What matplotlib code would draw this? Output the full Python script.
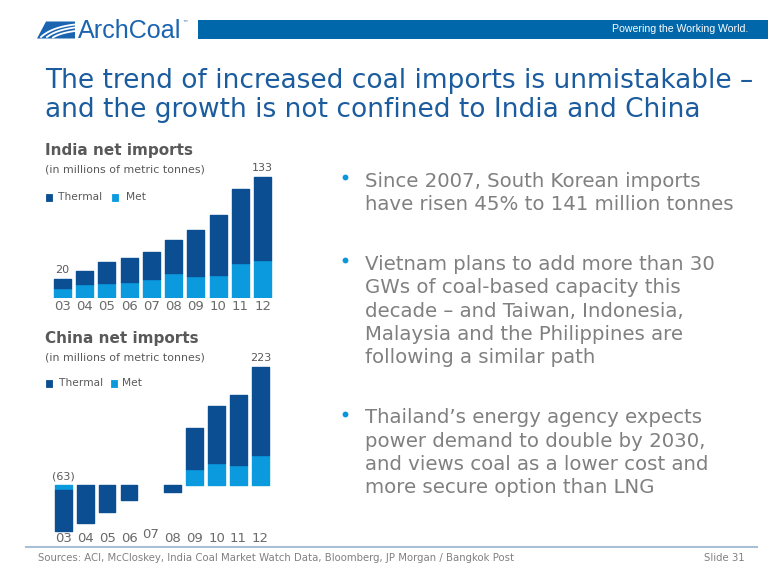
import matplotlib
matplotlib.use("Agg")
import matplotlib.pyplot as plt
from matplotlib.patches import Rectangle, Polygon
import numpy as np

# ---------------- data ----------------
years = ['03', '04', '05', '06', '07', '08', '09', '10', '11', '12']
india_thermal = [10, 15, 24, 27, 29, 37, 51, 66, 82, 91]
india_met = [11, 15, 16, 17, 21, 27, 24, 25, 38, 42]
china_thermal = [-77, -72, -51, -29, 0, -14, 77, 108, 132, 166]
china_met = [-9, 0, 0, 0, 0, 0, 30, 41, 38, 57]
india_labels = {0: '20', 9: '133'}
china_labels = {0: '(63)', 9: '223'}

title_lines = ["The trend of increased coal imports is unmistakable \u2013",
               "and the growth is not confined to India and China"]
bullets = [
    ["Since 2007, South Korean imports",
     "have risen 45% to 141 million tonnes"],
    ["Vietnam plans to add more than 30",
     "GWs of coal-based capacity this",
     "decade \u2013 and Taiwan, Indonesia,",
     "Malaysia and the Philippines are",
     "following a similar path"],
    ["Thailand\u2019s energy agency expects",
     "power demand to double by 2030,",
     "and views coal as a lower cost and",
     "more secure option than LNG"],
]
footer = "Sources: ACI, McCloskey, India Coal Market Watch Data, Bloomberg, JP Morgan / Bangkok Post"

# ---------------- style ----------------
W, H = 780, 585
THERMAL = '#0b4f92'
MET = '#0b9ade'
TITLE_BLUE = '#1b5c9e'
GRAY_TXT = '#808080'
DARK_TXT = '#595959'
TICK_TXT = '#6a6a6a'

fig = plt.figure(figsize=(W / 100, H / 100), dpi=100)
fig.patch.set_facecolor('white')
renderer = fig.canvas.get_renderer()


def fx(x):
    return x / W


def fy(y):
    return 1 - y / H


def fit_size(s, width, size0=12, **kw):
    t = fig.text(0, 0, s, fontsize=size0, **kw)
    bb = t.get_window_extent(renderer)
    t.remove()
    return size0 * width / bb.width


def ftext(x, y, s, **kw):
    return fig.text(fx(x), fy(y), s, **kw)


def axes_px(left, top, width, height):
    return fig.add_axes([fx(left), fy(top + height), width / W, height / H])


# ---------------- header ----------------
fig.add_artist(Rectangle((fx(198), fy(39)), 570 / W, 19 / H, transform=fig.transFigure,
                         facecolor='#0067ab', edgecolor='none'))
s_pw = fit_size("Powering the Working World.", 136, family=['Liberation Sans Narrow', 'Liberation Sans'])
ftext(748, 29.5, "Powering the Working World.", color='white', fontsize=s_pw,
      ha='right', va='center', family=['Liberation Sans Narrow', 'Liberation Sans'])
# logo icon
fig.add_artist(Polygon([(fx(37), fy(38.5)), (fx(46), fy(21.5)), (fx(75), fy(21.5)), (fx(75), fy(38.5))],
                       closed=True, transform=fig.transFigure, facecolor='#1a64b0', edgecolor='none'))
for (x0, y0, x1, y1, x2, y2) in [(41, 37, 52, 27, 75, 24.5), (47, 37, 56, 30, 75, 27.5), (53, 37.5, 60, 33, 75, 31)]:
    ts = np.linspace(0, 1, 20)
    px = (1 - ts) ** 2 * x0 + 2 * (1 - ts) * ts * x1 + ts ** 2 * x2
    py = (1 - ts) ** 2 * y0 + 2 * (1 - ts) * ts * y1 + ts ** 2 * y2
    fig.add_artist(plt.Line2D(fx(px), fy(py), transform=fig.transFigure, color='white', lw=1.3))
s_logo = fit_size("ArchCoal", 104, family='Liberation Sans')
ftext(77.5, 38.3, "ArchCoal", color='#1a64b0', fontsize=s_logo, family='Liberation Sans', va='baseline')
ftext(182, 24, "\u2122", color='#1a64b0', fontsize=4, va='center')

# ---------------- title ----------------
s_title = fit_size(title_lines[0], 707)
ftext(45, 88.3, title_lines[0], color=TITLE_BLUE, fontsize=s_title, va='baseline')
ftext(45, 117.3, title_lines[1], color=TITLE_BLUE, fontsize=s_title, va='baseline')

# ---------------- bullets ----------------
s_b = fit_size(bullets[0][1], 368)
baselines = [[186.7, 210], [270, 293.3, 316.7, 340, 363.3], [423.3, 446.7, 470, 493.3]]
dots = [176.7, 260, 414]
for lines, bls, dy in zip(bullets, baselines, dots):
    fig.add_artist(plt.Line2D([fx(344.5)], [fy(dy)], transform=fig.transFigure, marker='o',
                              markersize=4.2, color='#0a96da', markeredgewidth=0))
    for ln, bl in zip(lines, bls):
        ftext(365, bl, ln, color=GRAY_TXT, fontsize=s_b, va='baseline')

# ---------------- chart text ----------------
s_ct = fit_size("India net imports", 147.7, fontweight='bold')
s_sub = fit_size("(in millions of metric tonnes)", 157.7)
s_leg = fit_size("Thermal", 44)


def chart_header(name, title_bl, sub_bl, leg_y, leg_x):
    ftext(45, title_bl, name, color=DARK_TXT, fontsize=s_ct, fontweight='bold', va='baseline')
    ftext(45, sub_bl, "(in millions of metric tonnes)", color=DARK_TXT, fontsize=s_sub, va='baseline')
    dx0, tx0, dx1, tx1 = leg_x
    for xx, col in [(dx0, THERMAL), (dx1, MET)]:
        fig.add_artist(Rectangle((fx(xx), fy(leg_y + 3.2)), 6 / W, 6.4 / H,
                                 transform=fig.transFigure, facecolor=col, edgecolor=col,
                                 linewidth=0.6, joinstyle='round'))
    ftext(tx0, leg_y, "Thermal", color=DARK_TXT, fontsize=s_leg, va='center')
    ftext(tx1, leg_y, "Met", color=DARK_TXT, fontsize=s_leg, va='center')


chart_header("India net imports", 155, 172, 197.5, (46, 58.3, 112, 126))
chart_header("China net imports", 343.3, 360, 383.3, (46, 59.3, 111, 121.7))

# ---------------- bar charts ----------------
x = np.arange(len(years))
BW = 0.76


def draw_bars(ax, thermal, met):
    lw_m = [1.0 if v != 0 else 0 for v in met]
    lw_t = [1.0 if v != 0 else 0 for v in thermal]
    ax.bar(x, met, BW, color=MET, edgecolor=MET, linewidth=lw_m, joinstyle='round')
    ax.bar(x, thermal, BW, bottom=met, color=THERMAL, edgecolor=THERMAL, linewidth=lw_t, joinstyle='round')
    ax.set_xlim(-0.5, len(years) - 0.5)
    ax.axis('off')


# India: zero at y=298 px, 0.912 px/unit
ax1 = axes_px(51.2, 298 - 140 * 0.912, 222.7, 140 * 0.912)
ax1.set_ylim(0, 140)
draw_bars(ax1, india_thermal, india_met)
for i, y in enumerate(years):
    ax1.annotate(y, (i, 0), xycoords='data', xytext=(0, -8.5), textcoords='offset pixels',
                 ha='center', va='center', fontsize=9.5, color=TICK_TXT)
tot_i = np.array(india_thermal) + np.array(india_met)
for i, lab in india_labels.items():
    ax1.annotate(lab, (i, tot_i[i]), xytext=(0, 4), textcoords='offset pixels',
                 ha='center', va='bottom', fontsize=8, color=DARK_TXT)

# China: zero at y=485 px, 0.5305 px/unit
sc = 0.5305
ax2 = axes_px(52.35, 485 - 230 * sc, 219, 325 * sc)
ax2.set_ylim(-95, 230)
draw_bars(ax2, china_thermal, china_met)
for i, y in enumerate(years):
    off = -50 if y == '07' else -53
    ax2.annotate(y, (i, 0), xycoords='data', xytext=(0, off), textcoords='offset pixels',
                 ha='center', va='center', fontsize=9.5, color=TICK_TXT)
tot_c = np.array(china_thermal) + np.array(china_met)
for i, lab in china_labels.items():
    base = max(tot_c[i], 0)
    ax2.annotate(lab, (i, base), xytext=(0, 4), textcoords='offset pixels',
                 ha='center', va='bottom', fontsize=8, color=DARK_TXT)

# ---------------- footer ----------------
fig.add_artist(plt.Line2D([fx(26), fx(757)], [fy(547), fy(547)], transform=fig.transFigure,
                          color='#a9bfd6', lw=1.5))
s_f = fit_size(footer, 474)
ftext(38.5, 558, footer, color=GRAY_TXT, fontsize=s_f, va='center')
ftext(745, 558, "Slide 31", color=GRAY_TXT, fontsize=s_f, va='center', ha='right')

fig.savefig('out.png', dpi=100, facecolor='white')
